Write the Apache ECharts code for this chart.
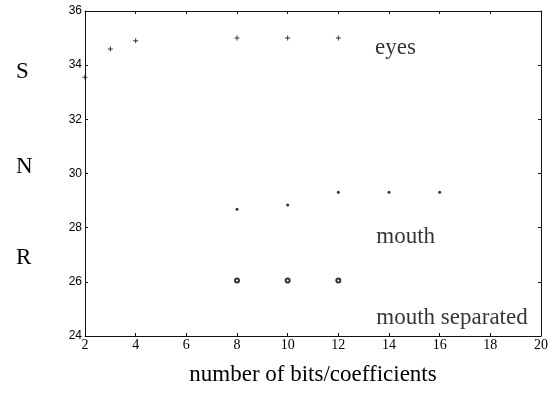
<!DOCTYPE html>
<html>
<head>
<meta charset="utf-8">
<script src="https://cdn.jsdelivr.net/npm/echarts@6/dist/echarts.min.js"></script>
<style>html,body{margin:0;padding:0;background:#fff}#c{width:553px;height:412px}</style>
</head>
<body>
<div id="c"></div>
<script>
// Data
var eyesX = [2, 3, 4, 8, 10, 12];
var eyesY = [33.55, 34.6, 34.9, 35.0, 35.0, 35.0];
var mouthX = [8, 10, 12, 14, 16];
var mouthY = [28.68, 28.84, 29.31, 29.31, 29.31];
var sepX = [8, 10, 12];
var sepY = [26.05, 26.05, 26.05];
var xTicks = [2, 4, 6, 8, 10, 12, 14, 16, 18, 20];
var yTicks = [24, 26, 28, 30, 32, 34, 36];
var labelNames = ['eyes', 'mouth', 'mouth separated'];
var labelX = [13.45, 13.5, 13.5];
var labelY = [34.62, 27.66, 24.67];
var yTitle = ['S', 'N', 'R'];
var xTitle = 'number of bits/coefficients';

function zip(a, b) { return a.map(function (v, i) { return [v, b[i]]; }); }

var serif = '"Liberation Serif", "DejaVu Serif", serif';
var axisLine = { show: true, lineStyle: { color: '#111', width: 1 } };
var axisTick = { show: true, inside: true, length: 3, lineStyle: { color: '#111', width: 1 } };

var plusPath = 'path://M0,2L5,2L5,3L0,3Z M2,0L3,0L3,5L2,5Z';

var chart = echarts.init(document.getElementById('c'));
chart.setOption({
  animation: false,
  backgroundColor: '#fff',
  grid: { left: 85, right: 12, top: 11, bottom: 76 },
  xAxis: [{
    type: 'value', min: xTicks[0], max: xTicks[xTicks.length - 1], interval: 2,
    axisLine: axisLine, axisTick: axisTick, splitLine: { show: false },
    axisLabel: { color: '#000', fontFamily: serif, fontSize: 14, margin: 2 },
    name: xTitle, nameLocation: 'middle', nameGap: 27,
    nameTextStyle: { color: '#000', fontFamily: serif, fontSize: 23 }
  }, {
    type: 'value', position: 'top', min: xTicks[0], max: xTicks[xTicks.length - 1], interval: 2,
    axisLine: axisLine, axisTick: axisTick, splitLine: { show: false }, axisLabel: { show: false }
  }],
  yAxis: [{
    type: 'value', min: yTicks[0], max: yTicks[yTicks.length - 1], interval: 2,
    axisLine: axisLine, axisTick: axisTick, splitLine: { show: false },
    axisLabel: { color: '#000', fontFamily: '"Liberation Sans", sans-serif', fontSize: 12, margin: 3 }
  }, {
    type: 'value', position: 'right', min: yTicks[0], max: yTicks[yTicks.length - 1], interval: 2,
    axisLine: axisLine, axisTick: axisTick, splitLine: { show: false }, axisLabel: { show: false }
  }],
  graphic: yTitle.map(function (t, i) {
    return {
      type: 'text', left: 16, top: [60, 155, 246][i],
      style: { text: t, font: '23px ' + serif, fill: '#000' }
    };
  }),
  series: [{
    type: 'scatter', name: 'eyes', data: zip(eyesX, eyesY),
    symbol: plusPath, symbolSize: 5, itemStyle: { color: '#000' }
  }, {
    type: 'scatter', name: 'mouth', data: zip(mouthX, mouthY),
    symbol: 'circle', symbolSize: 3, itemStyle: { color: '#000' }
  }, {
    type: 'scatter', name: 'mouth separated', data: zip(sepX, sepY),
    symbol: 'emptyCircle', symbolSize: 4, itemStyle: { color: '#000', borderWidth: 0.6 }
  }, {
    type: 'scatter', name: 'labels', symbolSize: 0, silent: true,
    data: labelNames.map(function (n, i) { return { value: [labelX[i], labelY[i]], name: n }; }),
    label: {
      show: true, position: 'right', distance: 0, formatter: '{b}',
      fontFamily: serif, fontSize: 23, color: '#000'
    }
  }]
});
</script>
</body>
</html>
